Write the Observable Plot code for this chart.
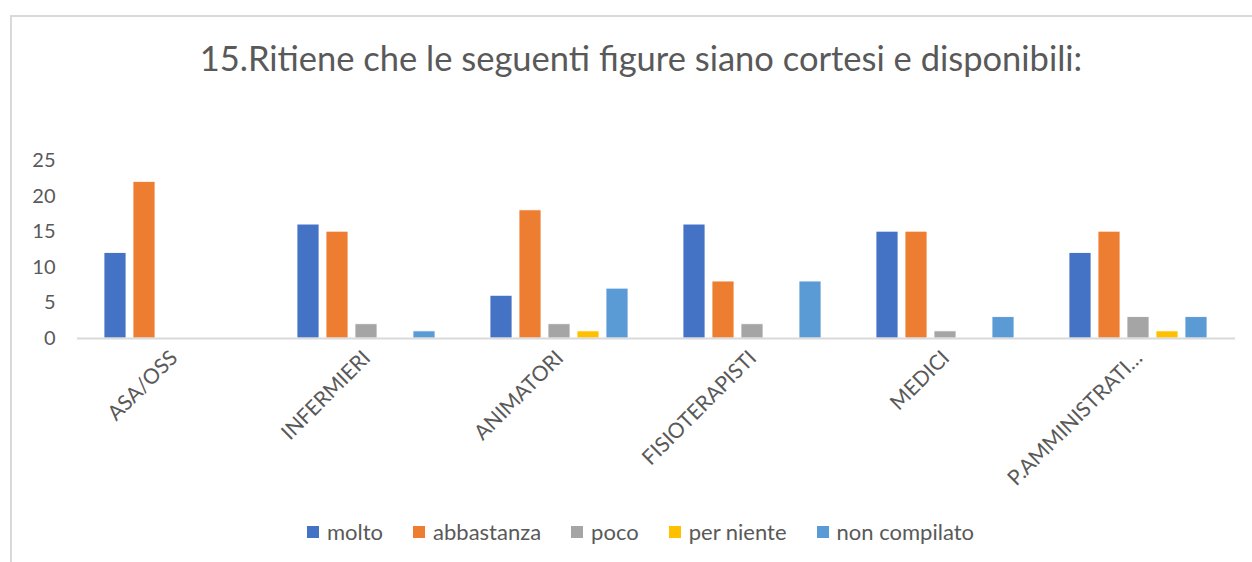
<!DOCTYPE html>
<html><head><meta charset="utf-8">
<script src="https://cdn.jsdelivr.net/npm/d3@7"></script>
<script src="https://cdn.jsdelivr.net/npm/@observablehq/plot@0.6"></script>
<style>
html,body{margin:0;padding:0;background:#fff;}
body{width:1252px;height:562px;position:relative;overflow:hidden;font-family:Lato,"Open Sans",sans-serif;}
#frame{position:absolute;left:10px;top:15px;width:1300px;height:600px;border-left:2px solid #d9d9d9;border-top:2px solid #d9d9d9;box-sizing:border-box;}
#title{position:absolute;top:37px;left:0;width:1282px;text-align:center;font-size:34.5px;color:#595959;white-space:nowrap;}
#chart{position:absolute;left:0;top:0;}
#legend{position:absolute;top:518px;left:0;width:1281px;display:flex;justify-content:center;font-size:22px;color:#595959;}
.item{display:flex;align-items:center;margin:0 15px;}
.sw{width:12px;height:12px;margin-right:8px;}
</style>
</head><body>
<div id="frame"></div>
<div id="title">15.Ritiene che le seguenti figure siano cortesi e disponibili:</div>
<div id="chart"></div>
<div id="legend"></div>
<script>
const categories = ["ASA/OSS","INFERMIERI","ANIMATORI","FISIOTERAPISTI","MEDICI","P.AMMINISTRATI…"];
const series = ["molto","abbastanza","poco","per niente","non compilato"];
const molto = [12,16,6,16,15,12];
const abbastanza = [22,15,18,8,15,15];
const poco = [0,2,2,2,1,3];
const perNiente = [0,0,1,0,0,1];
const nonCompilato = [0,1,7,8,3,3];
const yTicks = [0,5,10,15,20,25];
const colors = ["#4472C4","#ED7D31","#A5A5A5","#FFC000","#5B9BD5"];

const values = [molto, abbastanza, poco, perNiente, nonCompilato];
const data = categories.flatMap((c,i)=>series.map((s,j)=>({category:c, series:s, value:values[j][i]})));

const chart = Plot.plot({
  width:1252, height:500,
  marginTop:160, marginBottom:162, marginLeft:75, marginRight:16,
  style:{fontFamily:"Lato, 'Open Sans', sans-serif", color:"#595959", background:"transparent", overflow:"visible"},
  fx:{domain:categories, padding:0, label:null},
  x:{domain:series, paddingInner:0.233, paddingOuter:0.84, axis:null},
  y:{domain:[0,25], label:null},
  color:{domain:series, range:colors},
  marks:[
    Plot.barY(data,{fx:"category", x:"series", y:"value", fill:"series", stroke:"white", strokeWidth:0.8}),
    Plot.ruleY([0],{stroke:"#d9d9d9", strokeWidth:2}),
    Plot.axisY({ticks:yTicks, tickSize:0, tickPadding:22, fontSize:20, label:null}),
    Plot.axisFx({anchor:"bottom", tickRotate:-45, tickSize:0, tickPadding:2, dx:0, dy:14, fontSize:21, label:null})
  ]
});
document.getElementById("chart").appendChild(chart);

const legend = document.getElementById("legend");
series.forEach((s,i)=>{
  const it = document.createElement("div"); it.className="item";
  const sw = document.createElement("div"); sw.className="sw"; sw.style.background=colors[i];
  const t = document.createElement("span"); t.textContent=s;
  it.appendChild(sw); it.appendChild(t); legend.appendChild(it);
});
</script>
</body></html>
